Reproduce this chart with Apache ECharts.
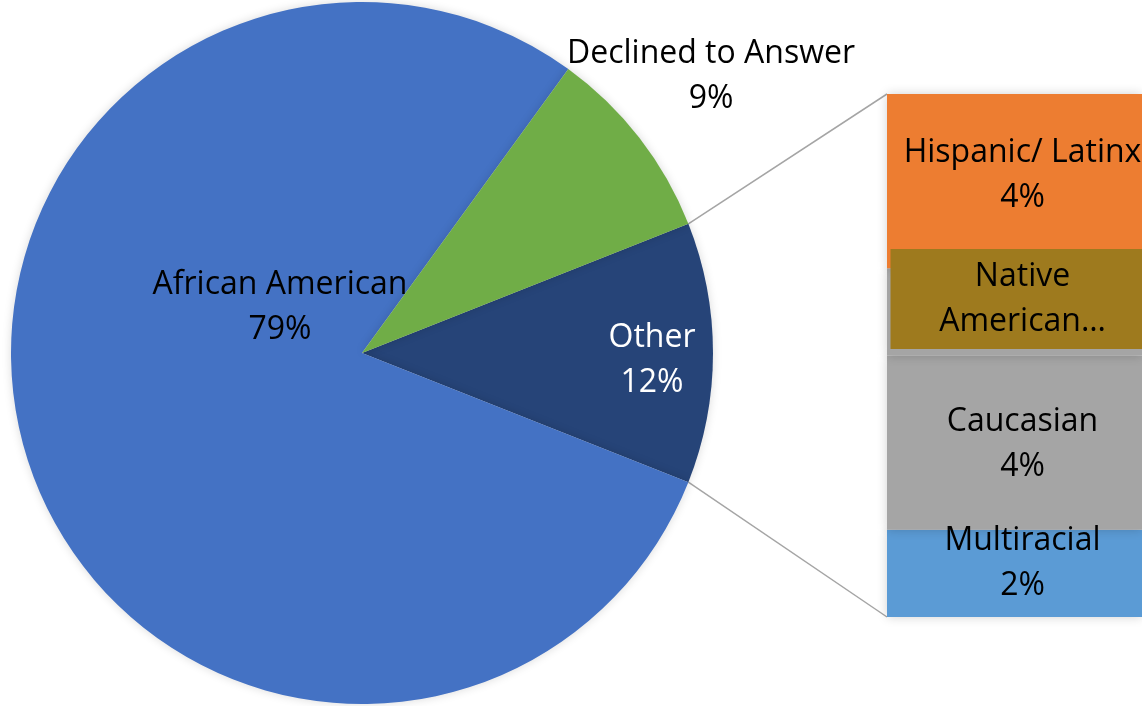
<!DOCTYPE html>
<html>
<head>
<meta charset="utf-8">
<title>Bar of pie</title>
<script src="https://cdn.jsdelivr.net/npm/echarts@6/dist/echarts.min.js"></script>
<style>
	html, body { margin: 0; padding: 0; background: #fff; }
	#chart { width: 1142px; height: 706px; }
</style>
</head>
<body>
<div id="chart"></div>
<script>
	// main pie slices (the "Other" slice is the sum of the bar parts)
	var mainNames = ['African American', 'Declined to Answer'];
	var mainValues = [79, 9];
	// breakdown of "Other", top to bottom
	var subNames = ['Hispanic/ Latinx', 'Native American', 'Caucasian', 'Multiracial'];
	var subValues = [4, 2, 4, 2];

	var otherTotal = subValues.reduce(function (a, b) { return a + b; }, 0);
	var grandTotal = otherTotal + mainValues[0] + mainValues[1];
	function pct(v) { return Math.round(v / grandTotal * 100) + '%'; }

	var font = '"Open Sans", sans-serif';
	var cx = 362, cy = 353, R = 351;
	var gridLeft = 887;

	var chart = echarts.init(document.getElementById('chart'));

	// where the pie labels sit (Other, African American, Declined)
	var pieLabelAt = [[652, 360], [280, 307], [711, 76]];

	var subColors = ['#ED7D31', '#A5A5A5', '#A5A5A5', '#5B9BD5'];
	var subLabelShift = [-6, -13, 2, -10];

	var barSeries = [];
	for (var i = subNames.length - 1; i >= 0; i--) {
		var isNative = subNames[i] === 'Native American';
		barSeries.push({
			type: 'bar',
			name: subNames[i],
			stack: 'other',
			barWidth: '100%',
			data: [subValues[i]],
			itemStyle: {
				color: subColors[i],
				shadowColor: 'rgba(0,0,0,0.18)',
				shadowBlur: 10
			},
			label: {
				show: true,
				position: 'inside',
				offset: [8, subLabelShift[i]],
				fontFamily: font,
				fontSize: 32,
				lineHeight: 45,
				color: '#000',
				align: 'center',
				backgroundColor: isNative ? '#9E7A1E' : 'transparent',
				width: isNative ? 264 : undefined,
				padding: isNative ? [5, 0, 5, 0] : 0,
				formatter: isNative ? 'Native\nAmerican…' : (subNames[i] + '\n' + pct(subValues[i]))
			}
		});
	}

	var option = {
		animation: false,
		grid: { left: gridLeft, right: -15, top: 94, bottom: 89 },
		xAxis: { type: 'category', data: ['Other'], show: false },
		yAxis: { type: 'value', min: 0, max: otherTotal, show: false },
		series: [{
			type: 'pie',
			center: [cx, cy],
			radius: R,
			startAngle: otherTotal / grandTotal * 180,
			clockwise: true,
			itemStyle: {
				shadowColor: 'rgba(0,0,0,0.15)',
				shadowBlur: 10
			},
			label: {
				position: 'inside',
				fontFamily: font,
				fontSize: 32,
				lineHeight: 45,
				formatter: function (p) { return p.name + '\n' + pct(p.value); }
			},
			labelLine: { show: false },
			labelLayout: function (p) {
				var at = pieLabelAt[p.dataIndex];
				return { x: at[0], y: at[1], align: 'center', verticalAlign: 'middle', hideOverlap: false };
			},
			data: [
				{ name: 'Other', value: otherTotal, itemStyle: { color: '#264478' }, label: { color: '#fff' } },
				{ name: mainNames[0], value: mainValues[0], itemStyle: { color: '#4472C4' }, label: { color: '#000' } },
				{ name: mainNames[1], value: mainValues[1], itemStyle: { color: '#70AD47' }, label: { color: '#000' } }
			]
		}].concat(barSeries)
	};
	chart.setOption(option);

	// connector lines from the "Other" slice edges to the bar corners
	var half = otherTotal / grandTotal * Math.PI;
	var px = cx + R * Math.cos(half);
	var yTop = chart.convertToPixel({ yAxisIndex: 0 }, otherTotal);
	var yBot = chart.convertToPixel({ yAxisIndex: 0 }, 0);
	chart.setOption({
		graphic: [
			{ type: 'line', shape: { x1: px, y1: cy - R * Math.sin(half), x2: gridLeft, y2: yTop }, style: { stroke: '#A5A5A5', lineWidth: 1.5 } },
			{ type: 'line', shape: { x1: px, y1: cy + R * Math.sin(half), x2: gridLeft, y2: yBot }, style: { stroke: '#A5A5A5', lineWidth: 1.5 } }
		]
	});
</script>
</body>
</html>
